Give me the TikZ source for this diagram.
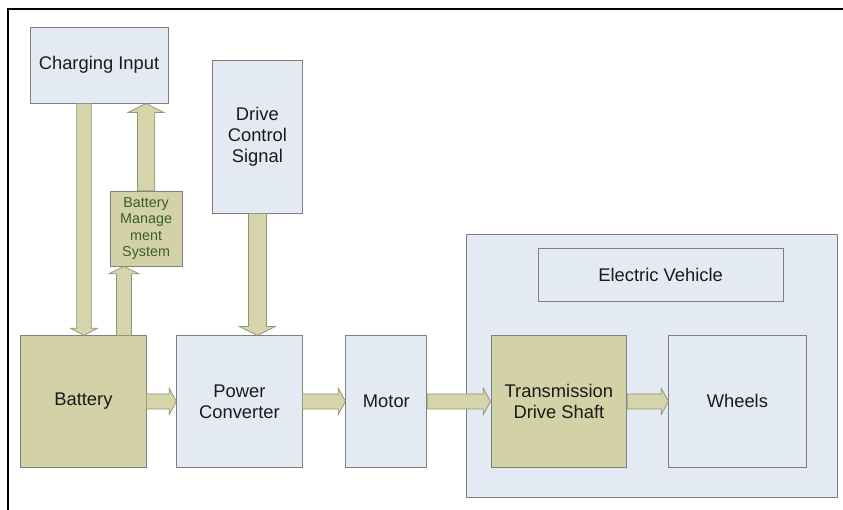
\documentclass[tikz,border=0pt]{standalone}
\usepackage{fontspec}
\setmainfont{Liberation Sans}
\usetikzlibrary{calc}

\definecolor{boxblue}{HTML}{E4EAF4}
\definecolor{boxolive}{HTML}{D3D1A6}
\definecolor{boxline}{HTML}{7F7F7F}
\definecolor{arrowfill}{HTML}{D5D4AA}
\definecolor{arrowline}{HTML}{8C9A70}
\definecolor{bmstext}{HTML}{3A5A30}
\definecolor{textdark}{HTML}{1A1A1A}

% fat block arrow: tail, tip, half shaft, half head, head length
\newcommand{\fatarrow}[5]{%
  \coordinate (fa-base) at ($(#2)!#5!(#1)$);
  \draw[fatline] ($(#1)!#3!90:(#2)$) -- ($(fa-base)!#3!90:(#2)$) -- ($(fa-base)!#4!90:(#2)$) -- (#2)
    -- ($(fa-base)!#4!-90:(#2)$) -- ($(fa-base)!#3!-90:(#2)$) -- ($(#1)!#3!-90:(#2)$) -- cycle;}

\begin{document}
\begin{tikzpicture}[
  bluebox/.style={rectangle, draw=boxline, fill=boxblue, line width=0.8pt, align=center, text=textdark,
    font=\fontsize{17.4}{20}\selectfont},
  olivebox/.style={bluebox, fill=boxolive},
  fatline/.style={draw=arrowline, fill=arrowfill, line width=0.7pt, line join=miter}
]
  \useasboundingbox (0,0) rectangle (28.1,17);

  % Rahmen
  \draw[line width=1.5pt] (0.27,0) -- (0.27,16.7) -- (28.1,16.7);

  % Fahrzeug
  \node[bluebox, minimum width=12.37cm, minimum height=8.74cm] (ev) at (21.72,4.8) {};
  \node[bluebox, minimum width=8.17cm, minimum height=1.77cm] (evlabel) at (22.02,7.85) {Electric Vehicle};

  % Bloecke
  \node[bluebox, minimum width=4.6cm, minimum height=2.53cm] (chin) at (3.3,14.83) {Charging Input};
  \node[bluebox, minimum width=2.97cm, minimum height=5.1cm] (dcs) at (8.58,12.45) {Drive\\Control\\Signal};
  \node[olivebox, minimum width=2.4cm, minimum height=2.5cm, text=bmstext, inner sep=1pt,
    font=\fontsize{13.6}{15.6}\selectfont] (bms) at (4.87,9.38) {Battery\\Manage\\ment\\System};
  \node[olivebox, minimum width=4.17cm, minimum height=4.37cm] (bat) at (2.78,3.62) {Battery};
  \node[bluebox, minimum width=4.17cm, minimum height=4.37cm] (pconv) at (7.98,3.62) {Power\\Converter};
  \node[bluebox, minimum width=2.7cm, minimum height=4.37cm] (motor) at (12.88,3.62) {Motor};
  \node[olivebox, minimum width=4.53cm, minimum height=4.37cm] (trans) at (18.63,3.62) {Transmission\\Drive Shaft};
  \node[bluebox, minimum width=4.57cm, minimum height=4.37cm] (wheels) at (24.58,3.62) {Wheels};

  % Pfeile
  \coordinate (chg-out) at ([xshift=-0.5cm]chin.south);
  \coordinate (chg-in) at (chg-out |- bat.north);
  \coordinate (bat-up) at ([xshift=1.35cm]bat.north);
  \coordinate (bms-in) at (bat-up |- bms.south);
  \coordinate (chg-top) at (bms.north |- chin.south);
  \coordinate (pc-top) at (dcs.south |- pconv.north);

  \fatarrow{chg-out}{chg-in}{0.24cm}{0.45cm}{0.24cm}
  \fatarrow{bat-up}{bms-in}{0.25cm}{0.5cm}{0.24cm}
  \fatarrow{bms.north}{chg-top}{0.29cm}{0.6cm}{0.3cm}
  \fatarrow{dcs.south}{pc-top}{0.3cm}{0.6cm}{0.3cm}
  \fatarrow{bat.east}{pconv.west}{0.25cm}{0.44cm}{0.24cm}
  \fatarrow{pconv.east}{motor.west}{0.25cm}{0.44cm}{0.24cm}
  \fatarrow{motor.east}{trans.west}{0.25cm}{0.44cm}{0.24cm}
  \fatarrow{trans.east}{wheels.west}{0.25cm}{0.44cm}{0.24cm}
\end{tikzpicture}
\end{document}
